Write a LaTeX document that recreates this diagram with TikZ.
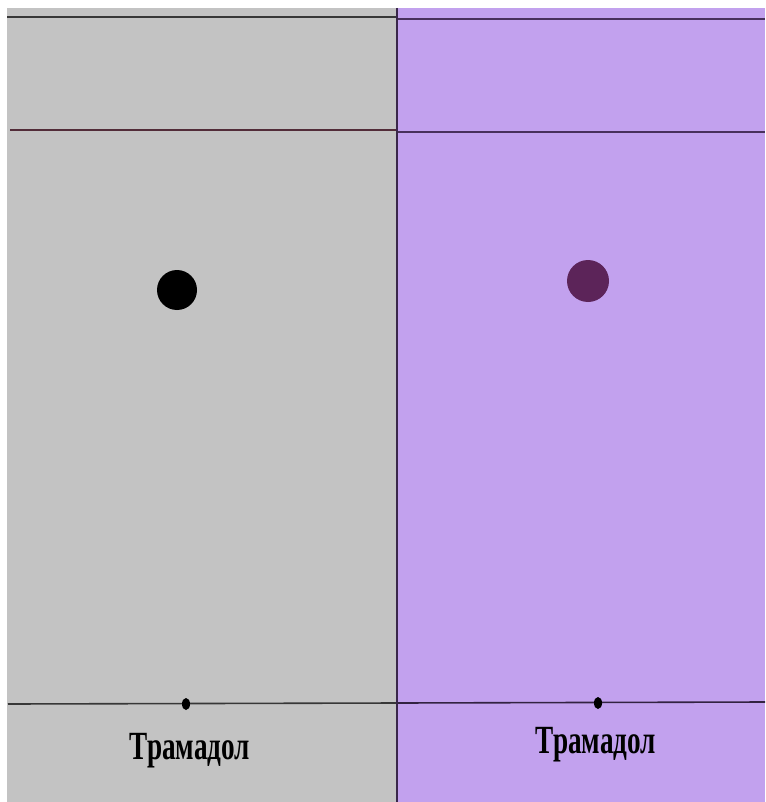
\documentclass[tikz,border=0pt]{standalone}
\usepackage{fontspec}
\setmainfont{Liberation Serif}
\usetikzlibrary{positioning}

\definecolor{plategray}{RGB}{195,195,195}
\definecolor{platepurple}{RGB}{194,161,238}
\definecolor{spotpurple}{RGB}{92,36,89}
\definecolor{linegray}{RGB}{55,55,55}
\definecolor{lineviolet}{RGB}{72,48,92}

\begin{document}
\begin{tikzpicture}[
    x=1pt, y=-1pt,
    lbl/.style={inner sep=0pt, font=\fontsize{40}{44}\selectfont\bfseries},
    frontline/.style={line width=1.6pt},
    spot/.style={circle, inner sep=0pt, minimum size=40pt},
  ]
  \useasboundingbox (0,0) rectangle (765,802);

  % plates
  \fill[plategray] (7,8) rectangle (397,802);
  \fill[platepurple] (397,8) rectangle (765,802);

  % solvent front and upper lines
  \draw[frontline, linegray] (7,17) -- (397,17);
  \draw[frontline, lineviolet] (397,19) -- (765,19);
  \draw[frontline, linegray!80!purple] (10,130) -- (397,130);
  \draw[frontline, lineviolet] (397,132) -- (765,132);

  % start line
  \draw[frontline, linegray] (8,704) -- (397,703);
  \draw[frontline, lineviolet!70!black] (397,703) -- (765,702);

  % divider
  \draw[line width=1.4pt, lineviolet!80!black] (397,8) -- (397,802);

  % spots
  \node[spot, fill=black] (spotL) at (177,290) {};
  \node[spot, fill=spotpurple, minimum size=42pt] (spotR) at (588,281) {};

  % application points
  \fill (186,704) ellipse (4 and 6);
  \fill (598,703) ellipse (4 and 6);

  % labels
  \node[lbl] (labL) at (190,751) {\scalebox{0.68}[1]{Трамадол}};
  \node[lbl] (labR) at (596,745) {\scalebox{0.68}[1]{Трамадол}};
\end{tikzpicture}
\end{document}
